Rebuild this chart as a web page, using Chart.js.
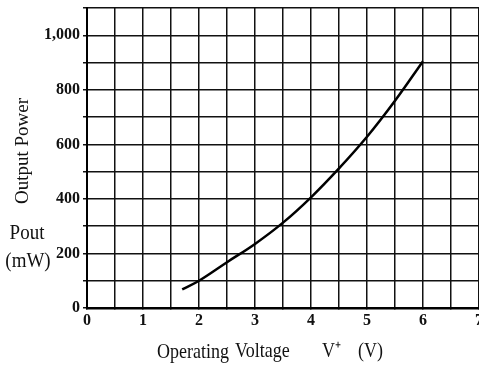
<!DOCTYPE html>
<html>
<head>
<meta charset="utf-8">
<script src="https://cdn.jsdelivr.net/npm/chart.js@4"></script>
<style>
  html, body { margin: 0; padding: 0; background: #fff; overflow: hidden; }
  #wrap { width: 490px; height: 368px; }
</style>
</head>
<body>
<div id="wrap"><canvas id="powerChart" width="490" height="368"></canvas></div>
<script>
// Output power vs operating voltage
const voltage = [1.7, 2.0, 2.5, 3.0, 3.5, 4.0, 4.5, 5.0, 5.5, 6.0];
const powerMw = [68, 100, 168, 235, 313, 406, 512, 628, 760, 905];
const xLabels = ['0', '1', '2', '3', '4', '5', '6', '7'];
const yLabels = ['0', '200', '400', '600', '800', '1,000'];

// axis captions drawn by hand, the scan is a bit stretched vertically
const axisText = {
  id: 'axisText',
  afterDraw(chart) {
    const ctx = chart.ctx;
    const put = (txt, x, y, align) => {
      ctx.save();
      ctx.textAlign = align;
      ctx.translate(x, y);
      ctx.scale(1, 1.15);
      ctx.fillText(txt, 0, 0);
      ctx.restore();
    };
    ctx.save();
    ctx.fillStyle = '#111';
    ctx.font = '18px "Liberation Serif", serif';
    ctx.textBaseline = 'alphabetic';
    put('Operating', 157, 358, 'left');
    put('Voltage', 235, 357, 'left');
    put('V\u207A', 322, 357, 'left');
    put('(V)', 358, 357, 'left');
    ctx.font = '19px "Liberation Serif", serif';
    put('Pout', 27, 239, 'center');
    put('(mW)', 28, 267, 'center');
    ctx.textAlign = 'center';
    ctx.textBaseline = 'middle';
    ctx.translate(23, 151);
    ctx.rotate(-Math.PI / 2);
    ctx.fillText('Output Power', 0, 0);
    ctx.restore();
  }
};

const tickFont = { family: '"Liberation Serif", serif', size: 16, weight: 'bold' };

new Chart(document.getElementById('powerChart'), {
  type: 'scatter',
  data: {
    datasets: [{
      data: voltage.map((v, i) => ({ x: v, y: powerMw[i] })),
      showLine: true,
      borderColor: '#000',
      borderWidth: 2.5,
      pointRadius: 0,
      tension: 0.4
    }]
  },
  options: {
    responsive: false,
    animation: false,
    layout: { padding: { top: 8, right: 11, left: 0, bottom: 0 } },
    plugins: { legend: { display: false }, tooltip: { enabled: false } },
    scales: {
      x: {
        type: 'linear',
        min: 0,
        max: 7,
        afterFit: s => { s.height = 60; s.paddingRight = 0; s.paddingLeft = 0; },
        border: { color: '#000', width: 2.5 },
        grid: { color: '#111', lineWidth: 1.5, tickLength: 0 },
        ticks: {
          stepSize: 0.5,
          padding: 3,
          color: '#111',
          font: tickFont,
          maxRotation: 0,
          autoSkip: false,
          callback: v => Number.isInteger(v) ? xLabels[v] : ''
        }
      },
      y: {
        min: 0,
        max: 1100,
        afterFit: s => { s.width = 87; s.paddingTop = 0; s.paddingBottom = 0; },
        border: { color: '#000', width: 2 },
        grid: { color: '#111', lineWidth: 1.5, tickLength: 4 },
        ticks: {
          stepSize: 100,
          padding: 3,
          color: '#111',
          font: tickFont,
          autoSkip: false,
          callback: v => v % 200 === 0 ? yLabels[v / 200] : ''
        }
      }
    }
  },
  plugins: [axisText]
});
</script>
</body>
</html>
